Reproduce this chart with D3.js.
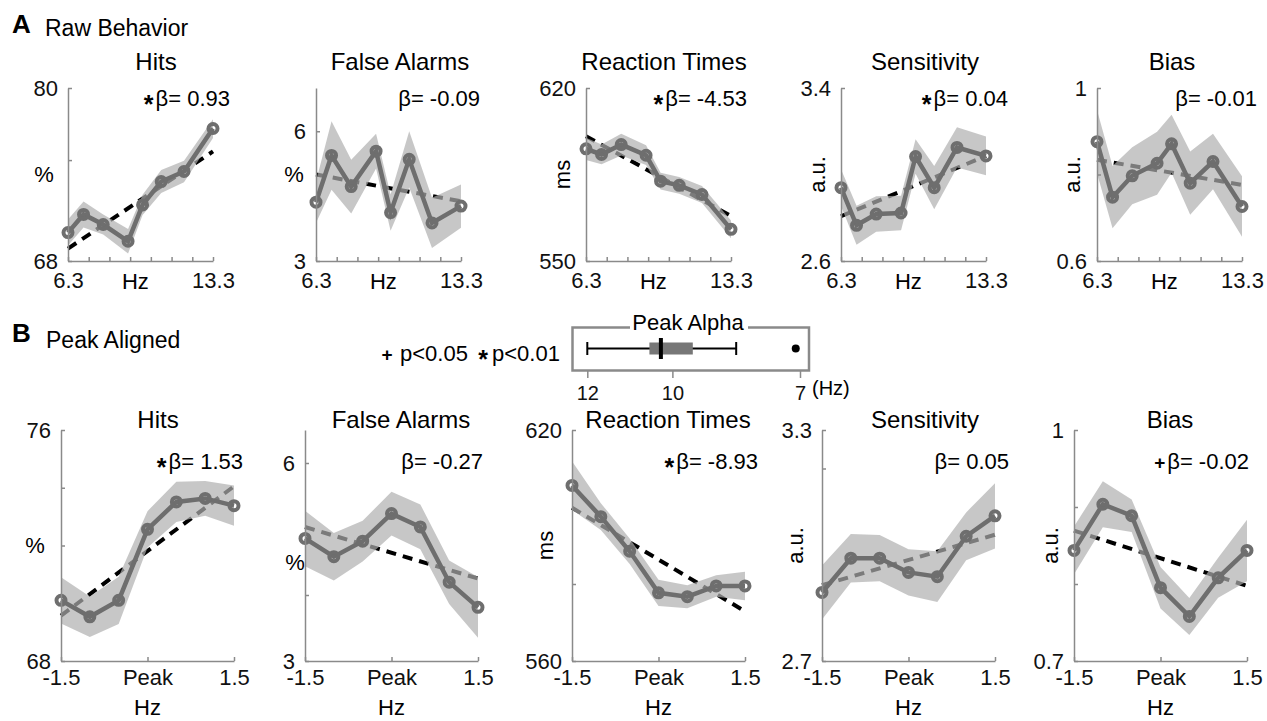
<!DOCTYPE html>
<html lang="en">
<head>
<meta charset="UTF-8">
<title>Behavior by alpha frequency</title>
<script src="https://cdn.jsdelivr.net/npm/d3@7"></script>
<style>
  body { margin: 0; background: #fff; }
  svg { display: block; font-family: "Liberation Sans", Arial, sans-serif; }
</style>
</head>
<body>
<svg id="fig" width="1267" height="721"></svg>
<script>
// ---- values ----
var rawHz = [6.3, 7.05, 8.0, 9.2, 9.9, 10.8, 11.9, 13.3];
var rawHzTicks = [6.3, 7.3, 8.3, 9.3, 10.3, 11.3, 12.3, 13.3];
var peakHz = [-1.5, -1, -0.5, 0, 0.5, 1, 1.5];
var peakHzTicks = [-1.5, 0, 1.5];

var measures = ['Hits', 'False Alarms', 'Reaction Times', 'Sensitivity', 'Bias'];
var units = ['%', '%', 'ms', 'a.u.', 'a.u.'];

// A: raw behaviour, mean and sem
var rawHits = [69.97, 71.23, 70.53, 69.37, 71.89, 73.51, 74.21, 77.19];
var rawHitsSem = [0.9, 0.9, 0.7, 0.85, 0.7, 0.8, 0.75, 0.65];
var rawFA = [4.36, 5.44, 4.72, 5.54, 4.12, 5.35, 3.88, 4.27];
var rawFASem = [0.48, 0.79, 0.62, 0.4, 0.42, 0.65, 0.58, 0.5];
var rawRT = [595.4, 593.1, 597.1, 592.8, 582.3, 580.6, 576.9, 562.8];
var rawRTSem = [4.5, 4, 4.4, 4, 3.4, 3.4, 3.4, 3.6];
var rawSens = [2.939, 2.765, 2.817, 2.822, 3.083, 2.939, 3.125, 3.086];
var rawSensSem = [0.085, 0.09, 0.082, 0.08, 0.08, 0.1, 0.093, 0.09];
var rawBias = [0.876, 0.7475, 0.797, 0.826, 0.871, 0.78, 0.83, 0.726];
var rawBiasSem = [0.073, 0.072, 0.066, 0.073, 0.067, 0.073, 0.064, 0.07];
// regression line ends (at first and last Hz)
var rawFit = [[68.86, 75.6], [5.0, 4.38], [600.5, 568.2], [2.807, 3.086], [0.834, 0.776]];
var rawBeta = ['0.93', '-0.09', '-4.53', '0.04', '-0.01'];
var rawSig = ['*', '', '*', '*', ''];
var rawYDomain = [[68, 80], [3, 7], [550, 620], [2.6, 3.4], [0.6, 1]];
var rawYLabeled = [[68, 80], [3, 6], [550, 620], [2.6, 3.4], [0.6, 1]];
var rawYMinor = [[75], [], [], [], [0.8]];

// B: aligned on individual peak
var peakHits = [70.1, 69.53, 70.1, 72.56, 73.51, 73.63, 73.38];
var peakHitsSem = [0.8, 0.7, 0.82, 0.63, 0.7, 0.6, 0.7];
var peakFA = [4.857, 4.581, 4.816, 5.233, 5.032, 4.194, 3.813];
var peakFASem = [0.42, 0.36, 0.31, 0.33, 0.34, 0.33, 0.46];
var peakRT = [605.6, 597.5, 588.5, 577.7, 576.7, 579.5, 579.5];
var peakRTSem = [6.3, 3.5, 3.3, 3.4, 3.0, 2.8, 3.7];
var peakSens = [2.878, 2.967, 2.967, 2.93, 2.919, 3.024, 3.077];
var peakSensSem = [0.07, 0.063, 0.06, 0.06, 0.066, 0.062, 0.085];
var peakBias = [0.8436, 0.9036, 0.8886, 0.7952, 0.7579, 0.808, 0.8436];
var peakBiasSem = [0.031, 0.03, 0.021, 0.027, 0.024, 0.026, 0.04];
var peakFit = [[69.57, 74.05], [5.03, 4.25], [599.8, 572.9], [2.897, 3.028], [0.8693, 0.7977]];
var peakBeta = ['1.53', '-0.27', '-8.93', '0.05', '-0.02'];
var peakSig = ['*', '', '*', '', '+'];
var peakYDomain = [[68, 76], [3, 6.5], [560, 620], [2.7, 3.3], [0.7, 1]];
var peakYLabeled = [[68, 76], [3, 6], [560, 620], [2.7, 3.3], [0.7, 1]];
var peakYMinor = [[72, 74], [4], [580], [3.2], [0.8, 0.9]];
var peakUnitAt = [72, 4.5, 590, 3.0, 0.85];

// peak alpha distribution (Hz)
var alphaWhisker = [12, 8.5];
var alphaBox = [10.54, 9.52];
var alphaMedian = 10.27;
var alphaOutliers = [7.1];
var alphaTicks = [12, 10, 7];

// ---- layout ----
var lineGray = '#6e6e6e', axisGray = '#8a8a8a';
var topRow = {
  left: [68, 316, 586, 841, 1097], width: 145, y0: 88, y1: 261,
  titleX: [156, 400, 664, 925, 1172], titleY: 70,
  betaX: [230, 480, 747, 1008, 1257], betaY: 106,
  unitX: [44, 294, 562, 817, 1072], tickPad: 11
};
var botRow = {
  left: [61, 305, 572, 822, 1074], width: 173, y0: 430, y1: 661,
  titleX: [158, 401, 668, 925, 1170], titleY: 428,
  betaX: [243, 483, 758, 1009, 1249], betaY: 469,
  unitX: [35, 295, 545, 795, 1050], tickPad: 8
};

var svg = d3.select('#fig');

function addSig(t, sig) {
  // star sits at mid-height of the digits, plus is small and bold
  if (sig === '*') {
    t.append('tspan').attr('font-size', 25).attr('font-weight', 'bold').attr('dy', 7).text('*');
    return -7;
  }
  if (sig === '+') {
    t.append('tspan').attr('font-size', 19).attr('font-weight', 'bold').text('+');
  }
  return 0;
}

function drawPanel(row, i, xs, xTicks, mean, sem, fit, yDom, labeled, minor, unitAt, beta, sig, raw) {
  var g = svg.append('g');
  var x = d3.scaleLinear().domain([xs[0], xs[xs.length - 1]]).range([row.left[i], row.left[i] + row.width]);
  var y = d3.scaleLinear().domain(yDom).range([row.y1, row.y0]);

  // fitted slope, under the band
  g.append('line')
    .attr('x1', x(xs[0])).attr('x2', x(xs[xs.length - 1]))
    .attr('y1', y(fit[0])).attr('y2', y(fit[1]))
    .attr('stroke', '#000').attr('stroke-width', 4).attr('stroke-dasharray', '10,7');

  var band = d3.area()
    .x(function (d, k) { return x(xs[k]) })
    .y0(function (d, k) { return y(d - sem[k]) })
    .y1(function (d, k) { return y(d + sem[k]) });
  g.append('path').attr('d', band(mean))
    .attr('fill', 'rgb(175,175,175)').attr('fill-opacity', 0.7);

  var line = d3.line().x(function (d, k) { return x(xs[k]) }).y(function (d) { return y(d) });
  g.append('path').attr('d', line(mean))
    .attr('fill', 'none').attr('stroke', lineGray).attr('stroke-width', 4.5);
  g.selectAll('circle.m').data(mean).enter().append('circle')
    .attr('cx', function (d, k) { return x(xs[k]) })
    .attr('cy', function (d) { return y(d) })
    .attr('r', 4.5).attr('fill', 'none')
    .attr('stroke', lineGray).attr('stroke-width', 4);

  // axes
  var yAxis = d3.axisLeft(y)
    .tickValues(labeled.concat(minor))
    .tickSize(-4).tickSizeOuter(0).tickPadding(10)
    .tickFormat(function (v) { return labeled.indexOf(v) >= 0 ? String(v) : '' });
  var ya = g.append('g').attr('transform', 'translate(' + row.left[i] + ',0)').call(yAxis);

  var xAxis = d3.axisBottom(x)
    .tickValues(xTicks)
    .tickSize(-4).tickSizeOuter(0).tickPadding(row.tickPad)
    .tickFormat(function (v, k) {
      if (raw) return (k === 0 || k === xTicks.length - 1) ? String(v) : '';
      return v === 0 ? 'Peak' : String(v);
    });
  var xa = g.append('g').attr('transform', 'translate(0,' + row.y1 + ')').call(xAxis);

  [ya, xa].forEach(function (a) {
    a.attr('font-family', null).attr('font-size', 22);
    a.selectAll('path, line').attr('stroke', axisGray).attr('stroke-width', 1.5);
    a.selectAll('text').attr('fill', '#111');
  });

  if (raw) {
    g.append('text').attr('x', x(9.55)).attr('y', row.y1 + 28)
      .attr('text-anchor', 'middle').attr('font-size', 22).text('Hz');
  } else {
    g.append('text').attr('x', x(0)).attr('y', 715)
      .attr('text-anchor', 'middle').attr('font-size', 22).text('Hz');
  }

  // unit label
  var uy = y(unitAt);
  if (units[i] === '%') {
    g.append('text').attr('x', row.unitX[i]).attr('y', uy).attr('dy', '0.35em')
      .attr('text-anchor', 'middle').attr('font-size', 22).text('%');
  } else {
    g.append('text').attr('transform', 'translate(' + row.unitX[i] + ',' + uy + ') rotate(-90)')
      .attr('dy', '0.35em').attr('text-anchor', 'middle').attr('font-size', 22).text(units[i]);
  }

  g.append('text').attr('x', row.titleX[i]).attr('y', row.titleY)
    .attr('text-anchor', 'middle').attr('font-size', 24).text(measures[i]);

  var bt = g.append('text').attr('x', row.betaX[i]).attr('y', row.betaY)
    .attr('text-anchor', 'end').attr('font-size', 22);
  var back = addSig(bt, sig);
  bt.append('tspan').attr('dy', back).attr('dx', sig ? 2 : 0).text('β= ' + beta);
}

var rawMeans = [rawHits, rawFA, rawRT, rawSens, rawBias];
var rawSems = [rawHitsSem, rawFASem, rawRTSem, rawSensSem, rawBiasSem];
var peakMeans = [peakHits, peakFA, peakRT, peakSens, peakBias];
var peakSems = [peakHitsSem, peakFASem, peakRTSem, peakSensSem, peakBiasSem];

for (var i = 0; i < 5; i++) {
  var mid = (rawYDomain[i][0] + rawYDomain[i][1]) / 2;
  drawPanel(topRow, i, rawHz, rawHzTicks, rawMeans[i], rawSems[i], rawFit[i],
    rawYDomain[i], rawYLabeled[i], rawYMinor[i], mid, rawBeta[i], rawSig[i], true);
  drawPanel(botRow, i, peakHz, peakHzTicks, peakMeans[i], peakSems[i], peakFit[i],
    peakYDomain[i], peakYLabeled[i], peakYMinor[i], peakUnitAt[i], peakBeta[i], peakSig[i], false);
}

// panel letters
svg.append('text').attr('x', 12).attr('y', 33).attr('font-size', 26).attr('font-weight', 'bold').text('A');
svg.append('text').attr('x', 45).attr('y', 36).attr('font-size', 23).text('Raw Behavior');
svg.append('text').attr('x', 12).attr('y', 342).attr('font-size', 26).attr('font-weight', 'bold').text('B');
svg.append('text').attr('x', 46).attr('y', 348).attr('font-size', 23).text('Peak Aligned');

// significance key
var key = svg.append('g').attr('font-size', 22);
key.append('text').attr('x', 387).attr('y', 361).attr('text-anchor', 'middle')
  .attr('font-size', 19).attr('font-weight', 'bold').text('+');
key.append('text').attr('x', 400).attr('y', 361).text('p<0.05');
key.append('text').attr('x', 483).attr('y', 368).attr('text-anchor', 'middle')
  .attr('font-size', 25).attr('font-weight', 'bold').text('*');
key.append('text').attr('x', 492).attr('y', 361).text('p<0.01');

// peak alpha box plot
var bx = d3.scaleLinear().domain([12, 7]).range([587.3, 800]);
var box = svg.append('g');
var by = 348.5;
box.append('rect').attr('x', 572.5).attr('y', 327.5).attr('width', 236.5).attr('height', 43)
  .attr('fill', 'none').attr('stroke', axisGray).attr('stroke-width', 2.5);
box.append('rect').attr('x', 630).attr('y', 322).attr('width', 118).attr('height', 10).attr('fill', '#fff');
box.append('text').attr('x', 688).attr('y', 330).attr('text-anchor', 'middle')
  .attr('font-size', 22).text('Peak Alpha');

box.append('line').attr('x1', bx(alphaWhisker[0])).attr('x2', bx(alphaWhisker[1]))
  .attr('y1', by).attr('y2', by).attr('stroke', '#000').attr('stroke-width', 2);
alphaWhisker.forEach(function (v) {
  box.append('line').attr('x1', bx(v)).attr('x2', bx(v)).attr('y1', by - 6.5).attr('y2', by + 6.5)
    .attr('stroke', '#000').attr('stroke-width', 2);
});
box.append('rect').attr('x', bx(alphaBox[0])).attr('width', bx(alphaBox[1]) - bx(alphaBox[0]))
  .attr('y', by - 6).attr('height', 12).attr('fill', '#777');
box.append('line').attr('x1', bx(alphaMedian)).attr('x2', bx(alphaMedian))
  .attr('y1', by - 10.5).attr('y2', by + 10.5).attr('stroke', '#000').attr('stroke-width', 4);
box.selectAll('circle.o').data(alphaOutliers).enter().append('circle')
  .attr('cx', function (d) { return bx(d) }).attr('cy', by).attr('r', 4).attr('fill', '#000');

var bAxis = d3.axisBottom(bx).tickValues(alphaTicks).tickSize(7).tickSizeOuter(0).tickPadding(8)
  .tickFormat(d3.format('d'));
var ba = box.append('g').attr('transform', 'translate(0,371)').call(bAxis);
ba.attr('font-family', null).attr('font-size', 20);
ba.select('.domain').remove();
ba.selectAll('line').attr('stroke', axisGray).attr('stroke-width', 1.5);
ba.selectAll('text').attr('fill', '#111');
box.append('text').attr('x', 812).attr('y', 395).attr('font-size', 20).text('(Hz)');
</script>
</body>
</html>
